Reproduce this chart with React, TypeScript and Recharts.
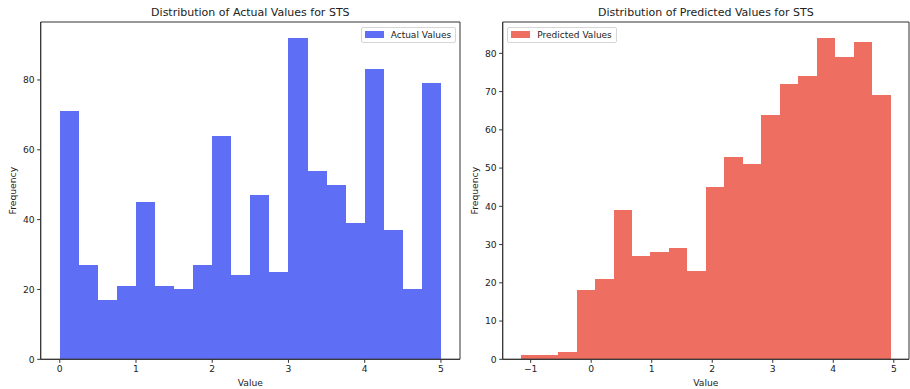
import React from 'react';
import { ComposedChart, XAxis, YAxis, ReferenceArea, Line, Legend } from 'recharts';

// histogram bins
const ACTUAL_EDGES = [0, 0.25, 0.5, 0.75, 1, 1.25, 1.5, 1.75, 2, 2.25, 2.5, 2.75, 3, 3.25, 3.5, 3.75, 4, 4.25, 4.5, 4.75, 5];
const ACTUAL_COUNTS = [71, 27, 17, 21, 45, 21, 20, 27, 64, 24, 47, 25, 92, 54, 50, 39, 83, 37, 20, 79];

const PREDICTED_EDGES = [
  -1.157, -0.852, -0.546, -0.241, 0.064, 0.369, 0.674, 0.979, 1.285, 1.59, 1.895,
  2.2, 2.505, 2.81, 3.115, 3.42, 3.726, 4.031, 4.336, 4.641, 4.946,
];
const PREDICTED_COUNTS = [1, 1, 2, 18, 21, 39, 27, 28, 29, 23, 45, 53, 51, 64, 72, 74, 84, 79, 83, 69];

const ACTUAL_X_TICKS = [0, 1, 2, 3, 4, 5];
const ACTUAL_Y_TICKS = [0, 20, 40, 60, 80];
const PREDICTED_X_TICKS = [-1, 0, 1, 2, 3, 4, 5];
const PREDICTED_Y_TICKS = [0, 10, 20, 30, 40, 50, 60, 70, 80];

const FONT = '"DejaVu Sans", sans-serif';
const AXIS = '#333';
const TEXT = '#222';
const SMALL = 9.2;

const fmt = (v: number) => (v < 0 ? `\u2212${-v}` : `${v}`);

// crisp rect so neighbouring bins don't show seams
const BinRect = (p: any) => (
  <rect x={p.x} y={p.y} width={p.width} height={p.height} fill={p.fill} shapeRendering="crispEdges" />
);

interface HistProps {
  title: string;
  name: string;
  color: string;
  edges: number[];
  counts: number[];
  xDomain: [number, number];
  yDomain: [number, number];
  xTicks: number[];
  yTicks: number[];
  width: number;
  marginRight: number;
  legendLeft: number;
  legendWidth: number;
}

function Histogram({ title, name, color, edges, counts, xDomain, yDomain, xTicks, yTicks, width, marginRight, legendLeft, legendWidth }: HistProps) {
  const bins = counts.map((c, i) => ({ x0: edges[i], x1: edges[i + 1], count: c }));
  const tick = { fontSize: SMALL, fill: TEXT, fontFamily: FONT };

  return (
    <ComposedChart
      width={width}
      height={389}
      data={bins}
      margin={{ top: 22, right: marginRight, bottom: 0, left: 5 }}
    >
      <XAxis
        dataKey="x0"
        type="number"
        domain={xDomain}
        ticks={xTicks}
        allowDataOverflow
        height={29.7}
        tick={tick}
        tickFormatter={fmt}
        tickSize={3.5}
        tickMargin={2.5}
        stroke={AXIS}
        label={(p: any) => (
          <text x={p.viewBox.x + p.viewBox.width / 2} y={p.viewBox.y + 26.8} textAnchor="middle" fontSize={SMALL} fontFamily={FONT} fill={TEXT}>
            Value
          </text>
        )}
      />
      <YAxis
        type="number"
        domain={yDomain}
        ticks={yTicks}
        allowDataOverflow
        width={35.7}
        tick={tick}
        tickSize={3.5}
        tickMargin={2.5}
        stroke={AXIS}
        label={(p: any) => {
          const cx = 13;
          const cy = p.viewBox.y + p.viewBox.height / 2;
          return (
            <text x={cx} y={cy} transform={`rotate(-90, ${cx}, ${cy})`} textAnchor="middle" dominantBaseline="central" fontSize={SMALL} fontFamily={FONT} fill={TEXT}>
              Frequency
            </text>
          );
        }}
      />
      {bins.map((b, i) => (
        <ReferenceArea
          key={i}
          x1={b.x0}
          x2={b.x1}
          y1={0}
          y2={b.count}
          fill={color}
          fillOpacity={1}
          ifOverflow="visible"
          shape={BinRect}
        />
      ))}
      {/* frame around the plot, title above it */}
      <ReferenceArea
        x1={xDomain[0]}
        x2={xDomain[1]}
        y1={yDomain[0]}
        y2={yDomain[1]}
        fill="none"
        fillOpacity={0}
        stroke={AXIS}
        strokeWidth={1}
        ifOverflow="visible"
        label={(p: any) => (
          <text x={p.viewBox.x + p.viewBox.width / 2} y={p.viewBox.y - 6} textAnchor="middle" fontSize={11} fontFamily={FONT} fill={TEXT}>
            {title}
          </text>
        )}
      />
      <Line dataKey="count" stroke="none" dot={false} activeDot={false} legendType="none" isAnimationActive={false} />
      <Legend
        layout="vertical"
        align="center"
        verticalAlign="middle"
        wrapperStyle={{ position: 'absolute', left: legendLeft, top: 26.7, width: legendWidth, height: 16.6 }}
        content={() => (
          <div
            style={{
              boxSizing: 'border-box',
              width: legendWidth,
              height: 16.6,
              border: '1px solid #d6d6d6',
              borderRadius: 2,
              background: 'rgba(255,255,255,0.8)',
              display: 'flex',
              alignItems: 'center',
              fontFamily: FONT,
              fontSize: 9,
              color: TEXT,
              whiteSpace: 'nowrap',
            }}
          >
            <span style={{ display: 'inline-block', width: 19, height: 7, background: color, marginLeft: 3, marginRight: 7 }} />
            <span>{name}</span>
          </div>
        )}
      />
    </ComposedChart>
  );
}

export default function App() {
  return (
    <div style={{ position: 'absolute', left: 0, top: 0, width: 910, height: 389, background: '#fff', display: 'flex' }}>
      <Histogram
        title="Distribution of Actual Values for STS"
        name="Actual Values"
        color="#5f6ff5"
        edges={ACTUAL_EDGES}
        counts={ACTUAL_COUNTS}
        xDomain={[-0.25, 5.25]}
        yDomain={[0, 96.6]}
        xTicks={ACTUAL_X_TICKS}
        yTicks={ACTUAL_Y_TICKS}
        width={462}
        marginRight={2}
        legendLeft={360.7}
        legendWidth={95.3}
      />
      <Histogram
        title="Distribution of Predicted Values for STS"
        name="Predicted Values"
        color="#ee6e62"
        edges={PREDICTED_EDGES}
        counts={PREDICTED_COUNTS}
        xDomain={[-1.462, 5.251]}
        yDomain={[0, 88.2]}
        xTicks={PREDICTED_X_TICKS}
        yTicks={PREDICTED_Y_TICKS}
        width={448}
        marginRight={1}
        legendLeft={45.3}
        legendWidth={109.7}
      />
    </div>
  );
}
